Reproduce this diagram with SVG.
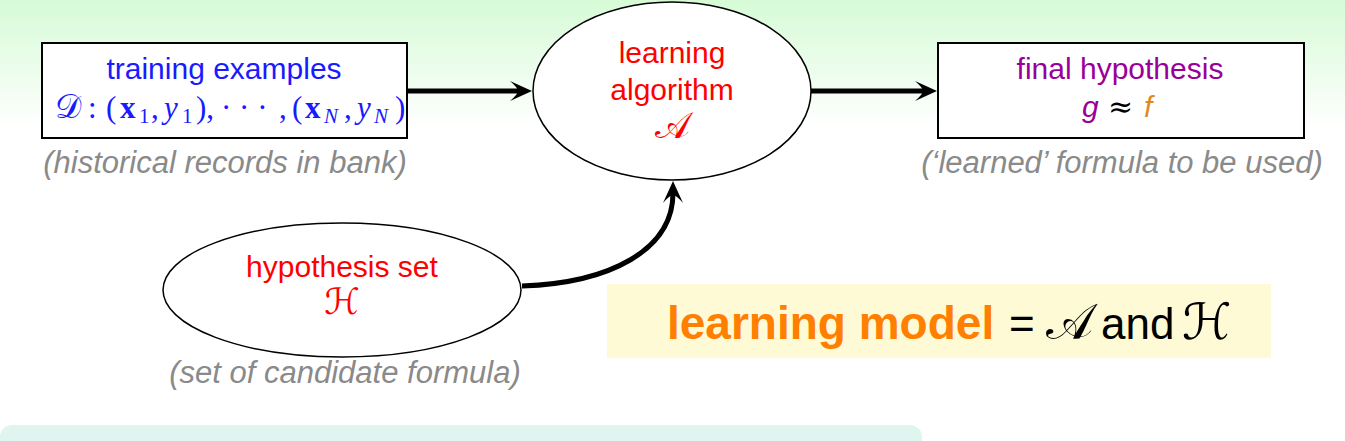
<svg xmlns="http://www.w3.org/2000/svg" width="1345" height="441" viewBox="0 0 1345 441">
<defs>
<linearGradient id="bg" x1="0" y1="0" x2="0" y2="1">
<stop offset="0" stop-color="#d6fbd6"/>
<stop offset="0.5" stop-color="#eefdee"/>
<stop offset="0.85" stop-color="#ffffff"/>
</linearGradient>
<marker id="ah" markerUnits="userSpaceOnUse" viewBox="-2 -12 26 24" markerWidth="26" markerHeight="24" refX="10" refY="0" orient="auto">
<path d="M22,0 L0,-10 Q8,-3 8,0 Q8,3 0,10 Z" fill="#000"/>
</marker>
</defs>
<style>
.box{fill:#fff;stroke:#000;stroke-width:2}
.ell{fill:#fff;stroke:#000;stroke-width:1.5}
.conn{fill:none;stroke:#000;stroke-width:5;marker-end:url(#ah)}
.sans{font-family:"Liberation Sans",Arial,sans-serif;font-size:30px}
.note{font-family:"Liberation Sans",Arial,sans-serif;font-size:31px;font-style:italic;fill:#8a8a8a}
.serif{font-family:"Liberation Serif","DejaVu Serif",serif;font-size:31px}
.scr{font-family:"DejaVu Serif","DejaVu Sans",serif}
</style>
<rect x="0" y="0" width="1345" height="150" fill="url(#bg)"/>
<rect x="0" y="425" width="922" height="40" rx="12" fill="#e0f5ef"/>

<g id="connectors">
<path class="conn" d="M407,91 L520,91"/>
<path class="conn" d="M811,91 L925,91"/>
<path class="conn" d="M522,286 C610,283 673,250 673,193"/>
</g>

<g id="training">
<rect class="box" x="42" y="43" width="365" height="95"/>
<text class="sans" x="224" y="79" text-anchor="middle" fill="#1a1aff">training examples</text>
<text class="serif" fill="#1a1aff" y="118">
<tspan class="scr" x="55" font-size="33">𝒟</tspan><tspan x="88">:</tspan><tspan x="106">(</tspan><tspan x="120" font-weight="bold">x</tspan><tspan x="139" y="123" font-size="21">1</tspan><tspan x="151" y="118">,</tspan><tspan x="164" font-style="italic">y</tspan><tspan x="182" y="123" font-size="21">1</tspan><tspan x="196" y="118">),</tspan><tspan x="221">· · ·</tspan><tspan x="279">,</tspan><tspan x="292">(</tspan><tspan x="305" font-weight="bold">x</tspan><tspan x="324" y="123" font-size="21" font-style="italic">N</tspan><tspan x="344" y="118">,</tspan><tspan x="357" font-style="italic">y</tspan><tspan x="374" y="123" font-size="21" font-style="italic">N</tspan><tspan x="395" y="118">)</tspan>
</text>
<text class="note" x="225" y="173" text-anchor="middle">(historical records in bank)</text>
</g>

<g id="algorithm">
<ellipse class="ell" cx="672" cy="91" rx="139" ry="89"/>
<text class="sans" x="672" y="63" text-anchor="middle" fill="#ff0000">learning</text>
<text class="sans" x="672" y="100" text-anchor="middle" fill="#ff0000">algorithm</text>
<text class="scr" x="672" y="138" text-anchor="middle" fill="#ff0000" font-size="37">𝒜</text>
</g>

<g id="final">
<rect class="box" x="938" y="43" width="366" height="95"/>
<text class="sans" x="1120" y="79" text-anchor="middle" fill="#990099">final hypothesis</text>
<text y="117" font-family="Liberation Sans,Arial,sans-serif" font-size="30">
<tspan x="1082" font-style="italic" fill="#990099">g</tspan><tspan x="1108" font-family="DejaVu Serif,serif" fill="#000">≈</tspan><tspan x="1144" font-style="italic" fill="#e08a1e">f</tspan>
</text>
<text class="note" x="1122" y="173" text-anchor="middle">(‘learned’ formula to be used)</text>
</g>

<g id="hypothesis">
<ellipse class="ell" cx="342" cy="290" rx="179" ry="67"/>
<text class="sans" x="342" y="277" text-anchor="middle" fill="#ff0000">hypothesis set</text>
<text class="scr" x="342" y="314" text-anchor="middle" fill="#ff0000" font-size="36">ℋ</text>
<text class="note" x="345" y="383" text-anchor="middle">(set of candidate formula)</text>
</g>

<g id="model">
<rect x="607" y="284" width="664" height="74" fill="#fffad6"/>
<text y="339" font-family="Liberation Sans,Arial,sans-serif" font-size="44">
<tspan x="667" font-weight="bold" font-size="46" fill="#ff7f00">learning model</tspan><tspan x="1009" fill="#000">=</tspan><tspan x="1046" class="scr" font-size="50" fill="#000">𝒜</tspan><tspan x="1101" fill="#000">and</tspan><tspan x="1182" class="scr" font-size="50" fill="#000">ℋ</tspan>
</text>
</g>
</svg>
